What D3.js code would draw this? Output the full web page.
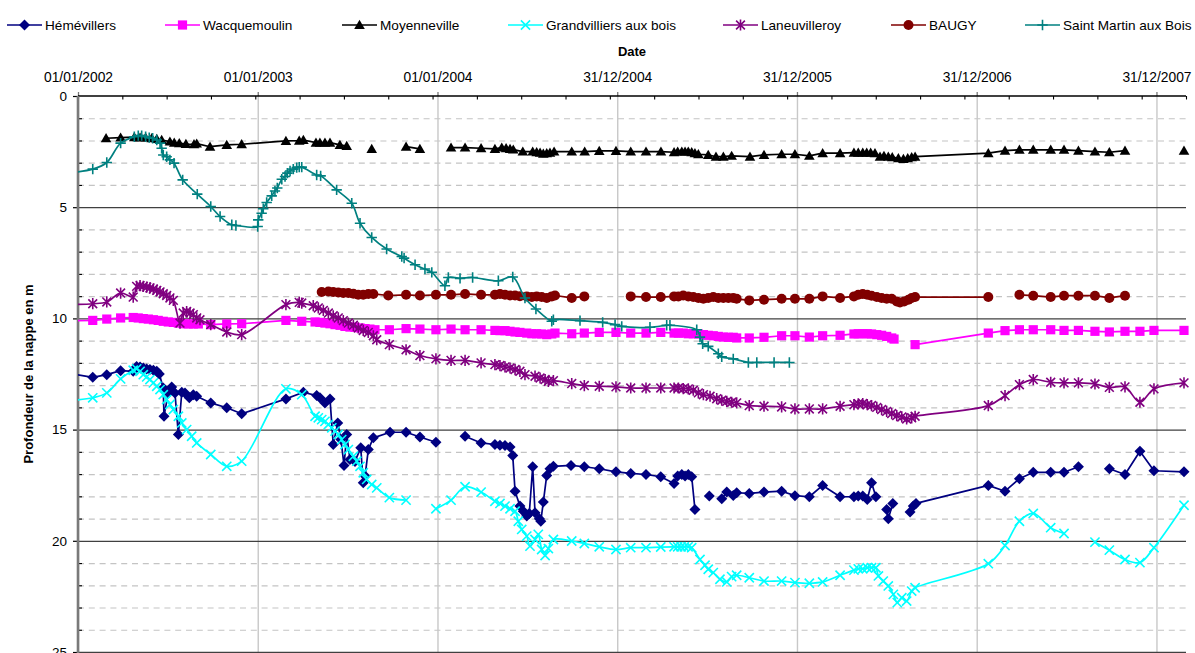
<!DOCTYPE html>
<html>
<head>
<meta charset="utf-8">
<script src="https://cdn.jsdelivr.net/npm/d3@7"></script>
<style>
  body { margin: 0; background: #fff; }
  svg { display: block; }
  text { font-family: "Liberation Sans", Arial, sans-serif; fill: #000; }
</style>
</head>
<body>
<svg id="chart" width="1195" height="653"></svg>
<script>
// Groundwater depth (m below surface) per observation well, dated in decimal years.
// null marks a break in the record.
const seriesNames = ["Hémévillers", "Wacquemoulin", "Moyenneville", "Grandvilliers aux bois",
                     "Laneuvilleroy", "BAUGY", "Saint Martin aux Bois"];
const seriesColors = ["#000080", "#ff00ff", "#000000", "#00ffff", "#800080", "#800000", "#008080"];

const hemevillers = [
  [2001.97,12.50],[2002.082,12.65],[2002.160,12.53],[2002.237,12.35],[2002.307,12.38],[2002.326,12.16],[2002.345,12.19],
  [2002.363,12.23],[2002.382,12.28],[2002.400,12.30],[2002.419,12.33],[2002.438,12.38],[2002.452,12.50],[2002.474,13.13],
  [2002.478,14.40],[2002.502,13.35],[2002.521,13.08],[2002.539,13.35],[2002.558,15.22],[2002.577,13.32],[2002.595,13.35],
  [2002.619,13.57],[2002.641,13.43],[2002.660,13.50],[2002.738,13.80],[2002.827,14.02],[2002.910,14.29],[2003.156,13.62],
  [2003.253,13.32],[2003.327,13.47],[2003.345,13.57],[2003.373,13.80],[2003.401,13.62],[2003.419,15.67],[2003.444,14.70],
  [2003.462,15.45],[2003.479,16.61],[2003.494,15.22],[2003.512,16.34],[2003.540,16.43],[2003.572,15.82],[2003.586,17.39],
  [2003.596,17.09],[2003.614,15.90],[2003.642,15.37],[2003.735,15.12],[2003.824,15.12],[2003.901,15.33],[2003.990,15.57],null,
  [2004.152,15.30],[2004.241,15.60],[2004.318,15.67],[2004.346,15.70],[2004.374,15.72],[2004.402,15.78],[2004.417,16.17],
  [2004.430,17.77],[2004.457,18.44],[2004.476,18.67],[2004.495,18.89],[2004.509,18.77],[2004.528,16.67],[2004.541,18.74],
  [2004.565,19.01],[2004.573,19.12],[2004.587,18.26],[2004.606,17.06],[2004.624,16.76],[2004.643,16.65],[2004.741,16.61],
  [2004.815,16.67],[2004.898,16.76],[2004.991,16.90],[2005.073,16.97],[2005.158,17.02],[2005.240,17.12],[2005.314,17.42],
  [2005.334,17.09],[2005.357,17.02],[2005.375,17.09],[2005.393,17.02],[2005.412,17.12],[2005.430,18.59],null,
  [2005.510,17.99],null,
  [2005.579,18.11],[2005.607,17.81],[2005.643,17.96],[2005.662,17.84],[2005.732,17.87],[2005.814,17.81],[2005.912,17.77],
  [2005.986,17.97],[2006.066,18.02],[2006.140,17.51],[2006.237,18.02],[2006.314,18.02],[2006.338,17.99],[2006.363,17.99],
  [2006.388,18.14],[2006.412,17.39],[2006.436,18.02],null,
  [2006.496,18.59],[2006.505,19.01],[2006.530,18.32],null,
  [2006.626,18.71],[2006.644,18.44],[2006.659,18.32],[2007.061,17.51],[2007.154,17.77],[2007.234,17.21],[2007.311,16.92],
  [2007.408,16.92],[2007.482,16.92],[2007.562,16.67],null,
  [2007.734,16.76],[2007.821,17.02],[2007.904,15.97],[2007.982,16.85],[2008.149,16.90]
];

const wacquemoulin = [
  [2001.97,10.10],[2002.082,10.09],[2002.160,10.03],[2002.237,9.98],[2002.307,9.96],[2002.335,9.98],[2002.363,10.01],
  [2002.391,10.03],[2002.419,10.06],[2002.446,10.09],[2002.474,10.13],[2002.502,10.16],[2002.530,10.18],[2002.558,10.21],
  [2002.585,10.24],[2002.613,10.25],[2002.641,10.25],[2002.669,10.25],[2002.738,10.28],[2002.827,10.25],[2002.910,10.24],
  [2003.156,10.09],[2003.244,10.13],[2003.318,10.16],[2003.345,10.18],[2003.373,10.21],[2003.401,10.24],[2003.429,10.28],
  [2003.457,10.31],[2003.484,10.36],[2003.512,10.39],[2003.540,10.40],[2003.568,10.43],[2003.596,10.46],[2003.623,10.48],
  [2003.651,10.51],[2003.731,10.51],[2003.824,10.46],[2003.901,10.48],[2003.990,10.51],[2004.074,10.48],[2004.152,10.51],
  [2004.241,10.51],[2004.318,10.54],[2004.346,10.55],[2004.374,10.55],[2004.402,10.58],[2004.430,10.61],[2004.457,10.63],
  [2004.495,10.66],[2004.523,10.69],[2004.550,10.69],[2004.578,10.70],[2004.606,10.73],[2004.634,10.70],[2004.652,10.66],
  [2004.745,10.69],[2004.815,10.66],[2004.898,10.63],[2004.991,10.63],[2005.073,10.66],[2005.158,10.66],[2005.240,10.63],
  [2005.314,10.66],[2005.338,10.66],[2005.365,10.66],[2005.393,10.69],[2005.421,10.69],[2005.449,10.70],[2005.477,10.73],
  [2005.504,10.76],[2005.532,10.78],[2005.560,10.81],[2005.588,10.84],[2005.616,10.85],[2005.643,10.85],[2005.662,10.88],
  [2005.732,10.88],[2005.814,10.85],[2005.912,10.78],[2005.986,10.78],[2006.066,10.84],[2006.140,10.78],[2006.237,10.76],
  [2006.314,10.70],[2006.338,10.69],[2006.363,10.69],[2006.388,10.69],[2006.412,10.70],[2006.441,10.73],[2006.468,10.76],
  [2006.496,10.81],[2006.524,10.88],[2006.537,10.93],null,
  [2006.654,11.18],[2007.061,10.66],[2007.154,10.55],[2007.234,10.51],[2007.311,10.51],[2007.408,10.51],[2007.482,10.54],
  [2007.562,10.54],[2007.654,10.58],[2007.734,10.61],[2007.821,10.58],[2007.904,10.58],[2007.982,10.54],[2008.149,10.54]
];

const moyenneville = [
  [2002.156,1.90],[2002.237,1.87],[2002.313,1.85],[2002.345,1.87],[2002.376,1.87],[2002.410,1.90],[2002.438,1.93],
  [2002.465,1.98],[2002.511,2.05],[2002.535,2.10],[2002.563,2.12],[2002.600,2.16],[2002.645,2.17],[2002.660,2.14],
  [2002.734,2.28],[2002.827,2.20],[2002.910,2.17],[2003.156,2.02],[2003.230,2.01],[2003.253,1.98],[2003.323,2.10],
  [2003.345,2.10],[2003.373,2.10],[2003.401,2.10],[2003.456,2.20],[2003.494,2.25],null,
  [2003.633,2.38],null,
  [2003.824,2.28],[2003.901,2.38],null,
  [2004.074,2.32],[2004.152,2.32],[2004.241,2.35],[2004.318,2.38],[2004.356,2.32],[2004.380,2.35],[2004.402,2.38],
  [2004.420,2.41],[2004.473,2.50],[2004.528,2.50],[2004.550,2.53],[2004.569,2.55],[2004.587,2.60],[2004.606,2.57],
  [2004.624,2.55],[2004.647,2.50],[2004.745,2.50],[2004.817,2.50],[2004.898,2.47],[2004.991,2.47],[2005.073,2.50],
  [2005.158,2.50],[2005.241,2.50],[2005.314,2.53],[2005.334,2.50],[2005.357,2.50],[2005.375,2.50],[2005.393,2.50],
  [2005.412,2.53],[2005.430,2.57],[2005.449,2.62],[2005.504,2.65],[2005.547,2.73],[2005.588,2.73],[2005.634,2.69],
  [2005.736,2.73],[2005.814,2.65],[2005.912,2.62],[2005.986,2.62],[2006.066,2.69],[2006.140,2.57],[2006.237,2.57],
  [2006.314,2.55],[2006.338,2.55],[2006.363,2.55],[2006.385,2.55],[2006.407,2.55],[2006.431,2.57],[2006.459,2.73],
  [2006.481,2.69],[2006.505,2.73],[2006.527,2.75],[2006.561,2.80],[2006.589,2.83],[2006.613,2.80],[2006.635,2.75],
  [2006.654,2.73],[2007.061,2.57],[2007.154,2.46],[2007.234,2.42],[2007.311,2.42],[2007.408,2.42],[2007.482,2.42],
  [2007.562,2.46],[2007.654,2.50],[2007.734,2.53],[2007.821,2.46],null,
  [2008.149,2.46]
];

const grandvilliers = [
  [2001.97,13.68],[2002.082,13.57],[2002.160,13.35],[2002.237,12.72],[2002.307,12.33],[2002.326,12.27],[2002.345,12.38],
  [2002.363,12.53],[2002.382,12.63],[2002.400,12.75],[2002.419,12.90],[2002.438,13.05],[2002.456,13.20],[2002.474,13.43],
  [2002.493,13.65],[2002.511,13.87],[2002.530,14.10],[2002.558,14.40],[2002.577,14.70],[2002.604,15.00],[2002.632,15.30],
  [2002.660,15.60],[2002.738,16.12],[2002.827,16.65],[2002.910,16.42],[2003.156,13.17],[2003.244,13.43],[2003.318,14.40],
  [2003.336,14.47],[2003.355,14.55],[2003.373,14.63],[2003.392,14.77],[2003.411,14.92],[2003.429,15.07],[2003.447,15.22],
  [2003.466,15.45],[2003.484,15.67],[2003.503,15.90],[2003.531,16.20],[2003.550,16.42],[2003.568,16.65],[2003.586,16.94],
  [2003.605,17.24],[2003.633,17.47],[2003.661,17.62],[2003.731,18.06],[2003.824,18.17],null,
  [2003.990,18.56],[2004.074,18.17],[2004.152,17.57],[2004.241,17.81],[2004.318,18.22],[2004.346,18.32],[2004.374,18.44],
  [2004.402,18.56],[2004.430,18.67],[2004.448,19.12],[2004.467,19.49],[2004.495,19.79],[2004.513,20.24],[2004.541,19.94],
  [2004.559,19.71],[2004.578,20.39],[2004.597,20.66],[2004.615,20.35],[2004.643,19.94],[2004.745,20.01],[2004.815,20.12],
  [2004.898,20.27],[2004.991,20.39],[2005.073,20.31],[2005.158,20.31],[2005.240,20.28],[2005.314,20.27],[2005.334,20.27],
  [2005.353,20.27],[2005.371,20.27],[2005.392,20.27],[2005.412,20.31],[2005.458,20.84],[2005.486,21.10],[2005.504,21.28],
  [2005.532,21.43],[2005.569,21.73],[2005.607,21.85],[2005.634,21.61],[2005.662,21.55],[2005.732,21.66],[2005.814,21.81],
  [2005.912,21.81],[2005.986,21.88],[2006.066,21.91],[2006.140,21.85],[2006.237,21.55],[2006.314,21.32],[2006.338,21.26],
  [2006.363,21.26],[2006.388,21.21],[2006.412,21.21],[2006.436,21.21],[2006.450,21.58],[2006.477,21.81],[2006.505,22.03],
  [2006.533,22.41],[2006.555,22.78],[2006.580,22.56],[2006.607,22.71],[2006.635,22.26],[2006.654,22.11],[2007.061,21.03],
  [2007.154,20.21],[2007.234,19.12],[2007.311,18.77],[2007.408,19.41],[2007.482,19.67],null,
  [2007.654,20.06],[2007.734,20.42],[2007.821,20.84],[2007.904,20.98],[2007.982,20.31],[2008.149,18.40]
];

const laneuvilleroy = [
  [2001.97,9.38],[2002.082,9.34],[2002.160,9.26],[2002.237,8.86],[2002.307,9.04],[2002.326,8.56],[2002.345,8.53],
  [2002.363,8.56],[2002.382,8.59],[2002.400,8.63],[2002.419,8.68],[2002.438,8.74],[2002.456,8.81],[2002.474,8.89],
  [2002.493,8.97],[2002.511,9.08],[2002.530,9.19],[2002.567,10.21],[2002.585,9.76],[2002.604,9.69],[2002.623,9.76],
  [2002.641,9.83],[2002.660,9.98],[2002.678,10.06],[2002.738,10.28],[2002.827,10.61],[2002.910,10.73],[2003.156,9.38],
  [2003.230,9.28],[2003.244,9.31],[2003.308,9.43],[2003.336,9.53],[2003.364,9.64],[2003.392,9.76],[2003.419,9.88],
  [2003.447,9.98],[2003.475,10.10],[2003.503,10.21],[2003.531,10.31],[2003.558,10.43],[2003.586,10.54],[2003.614,10.63],
  [2003.642,10.78],[2003.661,10.96],[2003.731,11.18],[2003.824,11.41],[2003.901,11.67],[2003.990,11.82],[2004.074,11.89],
  [2004.152,11.89],[2004.241,12.00],[2004.318,12.08],[2004.346,12.12],[2004.374,12.18],[2004.402,12.23],[2004.430,12.30],
  [2004.457,12.38],[2004.485,12.53],[2004.541,12.60],[2004.569,12.68],[2004.597,12.75],[2004.615,12.83],[2004.643,12.80],
  [2004.745,12.93],[2004.815,13.02],[2004.898,13.05],[2004.991,13.08],[2005.073,13.13],[2005.158,13.13],[2005.240,13.13],
  [2005.314,13.13],[2005.338,13.13],[2005.365,13.16],[2005.393,13.17],[2005.421,13.23],[2005.449,13.35],[2005.477,13.43],
  [2005.514,13.50],[2005.551,13.61],[2005.579,13.68],[2005.607,13.73],[2005.634,13.77],[2005.662,13.80],[2005.732,13.92],
  [2005.814,13.95],[2005.912,13.98],[2005.986,14.07],[2006.066,14.07],[2006.140,14.07],[2006.237,13.95],[2006.314,13.88],
  [2006.338,13.84],[2006.363,13.83],[2006.388,13.88],[2006.412,13.92],[2006.441,14.00],[2006.468,14.10],[2006.496,14.18],
  [2006.524,14.28],[2006.552,14.37],[2006.580,14.43],[2006.607,14.52],[2006.635,14.47],[2006.654,14.40],[2007.061,13.92],
  [2007.154,13.47],[2007.234,12.98],[2007.311,12.75],[2007.408,12.87],[2007.482,12.90],[2007.562,12.90],[2007.654,12.95],
  [2007.734,13.10],[2007.821,13.08],[2007.904,13.77],[2007.982,13.17],[2008.149,12.90]
];

const baugy = [
  [2003.355,8.81],[2003.392,8.79],[2003.419,8.81],[2003.447,8.83],[2003.475,8.86],[2003.503,8.86],[2003.531,8.89],
  [2003.558,8.94],[2003.586,8.94],[2003.614,8.90],[2003.642,8.90],[2003.725,8.97],[2003.824,8.94],[2003.901,8.97],
  [2003.990,8.94],[2004.074,8.94],[2004.152,8.90],[2004.241,8.94],[2004.318,8.94],[2004.346,8.90],[2004.374,8.94],
  [2004.402,8.97],[2004.430,8.97],[2004.457,9.00],[2004.495,9.01],[2004.523,9.04],[2004.550,9.01],[2004.578,9.04],
  [2004.606,9.08],[2004.634,9.01],[2004.652,8.97],[2004.745,9.08],[2004.815,9.01],null,
  [2005.073,9.01],[2005.158,9.04],[2005.240,9.04],[2005.314,9.01],[2005.338,9.01],[2005.365,8.97],[2005.393,9.01],
  [2005.421,9.04],[2005.449,9.08],[2005.477,9.12],[2005.504,9.08],[2005.532,9.04],[2005.560,9.08],[2005.588,9.08],
  [2005.616,9.08],[2005.643,9.08],[2005.662,9.12],[2005.732,9.19],[2005.814,9.16],[2005.912,9.12],[2005.986,9.12],
  [2006.066,9.12],[2006.140,9.01],[2006.237,9.08],[2006.314,9.01],[2006.338,8.94],[2006.363,8.90],[2006.388,8.94],
  [2006.412,8.98],[2006.441,9.04],[2006.468,9.08],[2006.496,9.12],[2006.524,9.12],[2006.552,9.24],[2006.570,9.28],
  [2006.593,9.24],[2006.617,9.16],[2006.635,9.08],[2006.654,9.04],[2007.061,9.04],null,
  [2007.234,8.94],[2007.311,8.98],[2007.408,9.04],[2007.482,8.98],[2007.562,8.98],[2007.654,8.98],[2007.734,9.08],
  [2007.821,8.98]
];

const saintMartin = [
  [2001.92,3.47],[2002.082,3.29],[2002.160,2.99],[2002.237,2.12],[2002.313,1.83],[2002.335,1.78],[2002.354,1.78],
  [2002.376,1.83],[2002.396,1.87],[2002.415,1.90],[2002.438,1.98],[2002.456,2.12],[2002.465,2.35],[2002.474,2.65],
  [2002.493,2.73],[2002.511,2.87],[2002.534,3.02],[2002.582,3.77],[2002.663,4.41],[2002.738,4.97],[2002.790,5.42],
  [2002.855,5.79],[2002.878,5.82],[2002.999,5.87],[2003.002,5.57],[2003.021,5.27],[2003.030,5.07],[2003.049,4.79],
  [2003.077,4.49],[2003.095,4.27],[2003.108,4.14],[2003.133,3.74],[2003.151,3.62],[2003.164,3.47],[2003.179,3.37],
  [2003.197,3.29],[2003.216,3.22],[2003.230,3.20],[2003.244,3.20],[2003.327,3.55],[2003.349,3.59],[2003.438,4.22],
  [2003.522,4.82],[2003.568,5.72],[2003.633,6.36],[2003.716,6.88],[2003.800,7.22],[2003.813,7.29],[2003.874,7.59],
  [2003.929,7.78],[2003.967,7.93],[2004.040,8.53],[2004.059,8.16],[2004.124,8.20],[2004.194,8.16],[2004.337,8.31],
  [2004.417,8.14],[2004.485,9.08],[2004.546,9.58],[2004.634,10.13],[2004.643,10.06],[2004.791,10.10],[2004.917,10.18],
  [2004.986,10.28],[2005.023,10.36],[2005.180,10.40],[2005.273,10.31],[2005.291,10.31],[2005.440,10.51],[2005.458,10.84],
  [2005.473,11.14],[2005.504,11.26],[2005.560,11.59],[2005.579,11.73],[2005.643,11.82],[2005.727,11.98],[2005.774,11.98],
  [2005.870,11.98],[2005.955,11.98]
];

// Axis settings
const dateDomain = ["01/01/2002", "29/02/2008"];
const dateTickLabels = ["01/01/2002", "01/01/2003", "01/01/2004", "31/12/2004", "31/12/2005", "31/12/2006", "31/12/2007"];
const minorStepDays = 90;
const depthDomain = [0, 25];
const depthMajorTicks = [0, 5, 10, 15, 20, 25];
const depthMinorTicks = [1, 2, 3, 4, 6, 7, 8, 9, 11, 12, 13, 14, 16, 17, 18, 19, 21, 22, 23, 24];

const allSeries = [hemevillers, wacquemoulin, moyenneville, grandvilliers, laneuvilleroy, baugy, saintMartin];
const markerKinds = ["diamond", "square", "triangle", "x", "star", "circle", "plus"];
const smoothed = [false, false, false, true, true, false, true];

// ---- layout ----
const plotLeft = 78, plotRight = 1186, plotTop = 96, plotBottom = 652;
const svg = d3.select("#chart");

const DAY = 864e5;
const parseDay = d3.utcParse("%d/%m/%Y");
const t0 = parseDay(dateDomain[0]).getTime();
const toDate = yr => new Date(t0 + (yr - 2002) * 365.25 * DAY);

const x = d3.scaleUtc().domain(dateDomain.map(parseDay)).range([plotLeft, plotRight]);
const y = d3.scaleLinear().domain(depthDomain).range([plotTop, plotBottom]);

const majorDates = dateTickLabels.map(parseDay);
const endDay = (parseDay(dateDomain[1]).getTime() - t0) / DAY;
const minorDates = d3.range(0, endDay + 1, minorStepDays).map(d => new Date(t0 + d * DAY));

const fontStack = '"Liberation Sans", Arial, sans-serif';

// dashed minor horizontal gridlines
svg.append("g")
  .attr("transform", `translate(${plotLeft},0)`)
  .call(d3.axisLeft(y).tickValues(depthMinorTicks).tickSize(-(plotRight - plotLeft)).tickFormat(""))
  .call(g => g.select(".domain").remove())
  .selectAll(".tick line")
  .attr("stroke", "#c4c4c4").attr("stroke-width", 1.2).attr("stroke-dasharray", "6,4.8");

// vertical gridlines at the yearly ticks
svg.append("g")
  .attr("transform", `translate(0,${plotTop})`)
  .call(d3.axisTop(x).tickValues(majorDates).tickSize(-(plotBottom - plotTop)).tickFormat(""))
  .call(g => g.select(".domain").remove())
  .selectAll(".tick line")
  .attr("stroke", "#c8c8c8").attr("stroke-width", 1.4);

// solid major horizontal gridlines
svg.append("g")
  .attr("transform", `translate(${plotLeft},0)`)
  .call(d3.axisLeft(y).tickValues(depthMajorTicks.slice(1)).tickSize(-(plotRight - plotLeft)).tickFormat(""))
  .call(g => g.select(".domain").remove())
  .selectAll(".tick line")
  .attr("stroke", "#404040").attr("stroke-width", 1.3);

// top date axis
const xAxisG = svg.append("g")
  .attr("transform", `translate(0,${plotTop})`)
  .call(d3.axisTop(x).tickValues(majorDates).tickSize(4).tickPadding(10.5)
        .tickFormat(d3.utcFormat("%d/%m/%Y")));
xAxisG.select(".domain").remove();
xAxisG.selectAll(".tick line").attr("stroke", "#777").attr("stroke-width", 1.3);
xAxisG.selectAll(".tick text").attr("font-size", 13.8).attr("fill", "#000").style("font-family", fontStack);

svg.append("g")
  .attr("transform", `translate(0,${plotTop})`)
  .call(d3.axisBottom(x).tickValues(minorDates).tickSize(3.5).tickFormat(""))
  .call(g => g.select(".domain").remove())
  .selectAll(".tick line").attr("stroke", "#000").attr("stroke-width", 1.1);

svg.append("line")
  .attr("x1", plotLeft).attr("x2", plotRight).attr("y1", plotTop).attr("y2", plotTop)
  .attr("stroke", "#000").attr("stroke-width", 1.3);

// left depth axis
const yAxisG = svg.append("g")
  .attr("transform", `translate(${plotLeft},0)`)
  .call(d3.axisLeft(y).tickValues(depthMajorTicks).tickSize(5).tickPadding(6));
yAxisG.select(".domain").remove();
yAxisG.selectAll(".tick line").attr("stroke", "#000").attr("stroke-width", 1.2);
yAxisG.selectAll(".tick text").attr("font-size", 13.5).attr("fill", "#000").style("font-family", fontStack);

svg.append("g")
  .attr("transform", `translate(${plotLeft},0)`)
  .call(d3.axisRight(y).tickValues(depthMinorTicks).tickSize(4).tickFormat(""))
  .call(g => g.select(".domain").remove())
  .selectAll(".tick line").attr("stroke", "#000").attr("stroke-width", 1.1);

svg.append("line")
  .attr("x1", plotLeft).attr("x2", plotLeft).attr("y1", plotTop).attr("y2", 653)
  .attr("stroke", "#7a7a7a").attr("stroke-width", 2.6);

// axis titles
svg.append("text")
  .attr("x", 632).attr("y", 56).attr("text-anchor", "middle")
  .attr("font-size", 13).attr("font-weight", "bold").text("Date");

svg.append("text")
  .attr("transform", "translate(33,374) rotate(-90)")
  .attr("text-anchor", "middle")
  .attr("font-size", 13).attr("font-weight", "bold").text("Profondeur de la nappe en m");

// ---- marker shapes ----
function drawMarker(sel, kind, color) {
  if (kind === "diamond") {
    sel.append("path").attr("d", "M0,-5.5L5.5,0L0,5.5L-5.5,0Z").attr("fill", color);
  } else if (kind === "square") {
    sel.append("path").attr("d", "M-4.6,-4.6h9.2v9.2h-9.2Z").attr("fill", color);
  } else if (kind === "triangle") {
    sel.append("path").attr("d", "M0,-5.2L5.3,4L-5.3,4Z").attr("fill", color);
  } else if (kind === "circle") {
    sel.append("circle").attr("r", 5).attr("fill", color);
  } else if (kind === "x") {
    sel.append("path").attr("d", "M-4.6,-4.6L4.6,4.6M-4.6,4.6L4.6,-4.6")
      .attr("stroke", color).attr("stroke-width", 1.6).attr("fill", "none");
  } else if (kind === "star") {
    sel.append("path").attr("d", "M-4.4,-4.4L4.4,4.4M-4.4,4.4L4.4,-4.4M0,-5.6V5.6")
      .attr("stroke", color).attr("stroke-width", 1.6).attr("fill", "none");
  } else if (kind === "plus") {
    sel.append("path").attr("d", "M-5.2,0H5.2M0,-5.2V5.2")
      .attr("stroke", color).attr("stroke-width", 1.6).attr("fill", "none");
  }
}

// ---- series ----
svg.append("clipPath").attr("id", "plotClip")
  .append("rect").attr("x", plotLeft).attr("y", 0).attr("width", 1195 - plotLeft).attr("height", 653);

allSeries.forEach((data, i) => {
  const color = seriesColors[i];
  const line = d3.line()
    .defined(d => d !== null)
    .x(d => x(toDate(d[0])))
    .y(d => y(d[1]))
    .curve(smoothed[i] ? d3.curveCatmullRom.alpha(0.5) : d3.curveLinear);

  const g = svg.append("g");
  g.append("path")
    .datum(data)
    .attr("clip-path", "url(#plotClip)")
    .attr("d", line)
    .attr("fill", "none")
    .attr("stroke", color)
    .attr("stroke-width", 1.7)
    .attr("stroke-linejoin", "round");

  const pts = data.filter(d => d !== null && d[0] >= 2002);
  g.selectAll("g.pt")
    .data(pts)
    .join("g")
    .attr("class", "pt")
    .attr("transform", d => `translate(${x(toDate(d[0]))},${y(d[1])})`)
    .each(function () { drawMarker(d3.select(this), markerKinds[i], color); });
});

// ---- legend ----
const legendX = [7, 165, 342, 508, 723, 891, 1025];
const legendG = svg.append("g");
seriesNames.forEach((name, i) => {
  const item = legendG.append("g").attr("transform", `translate(${legendX[i]},25)`);
  item.append("line").attr("x1", 0).attr("x2", 35).attr("y1", 0).attr("y2", 0)
    .attr("stroke", seriesColors[i]).attr("stroke-width", 1.7);
  drawMarker(item.append("g").attr("transform", "translate(17.5,0)"), markerKinds[i], seriesColors[i]);
  item.append("text").attr("x", 38).attr("y", 4.8).attr("font-size", 13.6).text(name);
});
</script>
</body>
</html>
